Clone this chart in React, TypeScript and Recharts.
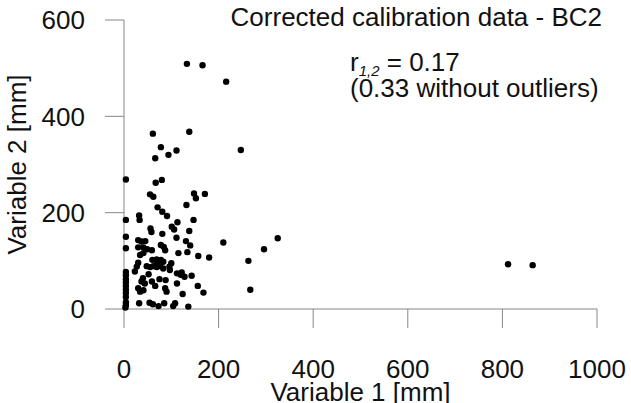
import React from "react";
import {
  ScatterChart,
  Scatter,
  XAxis,
  YAxis,
  Label,
} from "recharts";

// Variable 1 [mm]
const var1 = [
  133, 166, 216, 61, 138, 78, 111, 94, 66, 247,
  4, 67, 80, 55, 62, 148, 152, 171, 132,
  71, 81, 91, 147, 113, 32, 33, 4,
  101, 106, 138, 56, 58, 81, 4, 111, 131, 210,
  30, 37, 45, 78, 84, 140, 4, 30, 41, 49, 59, 87,
  115, 134, 157, 180, 325, 296, 263, 267,
  34, 41, 60, 69, 78, 83, 30,
  48, 55, 62, 69, 76, 83, 96, 97, 27, 23,
  112, 120, 128, 143, 122,
  40, 37, 44, 59, 66, 87, 90, 112, 156, 124, 168,
  30, 34, 41,
  32, 54, 61, 73, 85, 104, 108, 136,
  4, 4, 4, 4, 4, 4, 4, 4, 4, 4, 3,
  52, 70, 88, 100, 75,
  812, 864,
];

// Variable 2 [mm]
const var2 = [
  509, 506, 472, 364, 368, 336, 329, 320, 313, 330,
  269, 262, 268, 238, 233, 240, 230, 239, 216,
  211, 202, 193, 185, 180, 194, 185, 185,
  171, 165, 162, 167, 160, 156, 150, 148, 141, 138,
  143, 140, 141, 133, 129, 132, 126, 128, 128, 124, 122, 122,
  116, 118, 110, 107, 147, 124, 100, 40,
  112, 116, 102, 103, 102, 98, 96,
  89, 87, 89, 87, 89, 84, 88, 81, 88, 78,
  74, 71, 67, 69, 76,
  64, 57, 53, 57, 48, 43, 36, 53, 48, 31, 34,
  43, 36, 39,
  12, 13, 10, 6, 12, 6, 12, 5,
  77, 70, 62, 55, 48, 40, 33, 25, 14, 8, 3,
  72, 95, 60, 95, 62,
  93, 91,
];

const xTicks = [0, 200, 400, 600, 800, 1000];
const yTicks = [0, 200, 400, 600];

const data = var1.map((v, i) => ({ v1: v, v2: var2[i] }));

const FONT = "Arial, 'Liberation Sans', sans-serif";
const AXIS = "#868686";

const Dot = (props: any) => (
  <circle cx={props.cx} cy={props.cy} r={3.2} fill="#000" />
);

const App: React.FC = () => {
  return (
    <div
      style={{
        position: "absolute",
        left: 0,
        top: 0,
        width: 631,
        height: 403,
        background: "#fff",
        fontFamily: FONT,
      }}
    >
      <ScatterChart
        width={631}
        height={403}
        margin={{ top: 20, right: 34, bottom: 0, left: 0 }}
      >
        <XAxis
          type="number"
          dataKey="v1"
          domain={[0, 1000]}
          ticks={xTicks}
          interval={0}
          height={94}
          tickSize={19}
          tickMargin={32}
          stroke={AXIS}
          tick={{ fill: "#111", fontSize: 26, fontFamily: FONT }}
        >
          <Label
            value="Variable 1 [mm]"
            position="insideBottom"
            offset={2}
            style={{ fill: "#111", fontSize: 26, fontFamily: FONT }}
          />
        </XAxis>
        <YAxis
          type="number"
          dataKey="v2"
          domain={[0, 600]}
          ticks={yTicks}
          interval={0}
          width={124}
          tickSize={19}
          tickMargin={20}
          stroke={AXIS}
          tick={{ fill: "#111", fontSize: 26, fontFamily: FONT }}
        >
          <Label
            value="Variable 2 [mm]"
            angle={-90}
            position="insideLeft"
            offset={17}
            style={{
              fill: "#111",
              fontSize: 26,
              fontFamily: FONT,
              textAnchor: "middle",
            }}
          />
        </YAxis>
        <Scatter
          data={data}
          shape={Dot}
          fill="#000"
          isAnimationActive={false}
        />
      </ScatterChart>
      <svg
        width={631}
        height={403}
        style={{ position: "absolute", left: 0, top: 0, pointerEvents: "none" }}
      >
        <g fill="#111" fontFamily={FONT} fontSize={26}>
          <text x={602} y={26} textAnchor="end">
            Corrected calibration data - BC2
          </text>
          <text x={350} y={71}>
            r
            <tspan fontSize={15} fontStyle="italic" dy={5}>
              1,2
            </tspan>
            <tspan dy={-5}> = 0.17</tspan>
          </text>
          <text x={350} y={97}>
            (0.33 without outliers)
          </text>
        </g>
      </svg>
    </div>
  );
};

export default App;
